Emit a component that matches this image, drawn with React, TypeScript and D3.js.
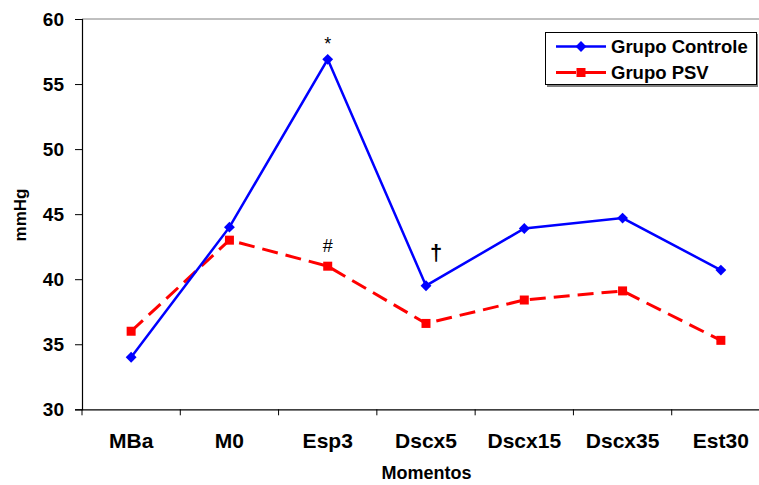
import React, { useRef, useEffect } from 'react';
import * as d3 from 'd3';

const categories = ['MBa', 'M0', 'Esp3', 'Dscx5', 'Dscx15', 'Dscx35', 'Est30'];
const controle = [34.0, 44.0, 56.9, 39.5, 43.9, 44.7, 40.7];
const psv = [36.0, 43.0, 41.0, 36.6, 38.4, 39.1, 35.3];
const yTicks = [30, 35, 40, 45, 50, 55, 60];
const marks = [
  { cat: 'Esp3', value: 56.9, text: '*', dy: -9, dx: 0 },
  { cat: 'Esp3', value: 41.0, text: '#', dy: -14, dx: 0 },
  { cat: 'Dscx5', value: 39.5, text: '†', dy: -26, dx: 10 },
];

const App: React.FC = () => {
  const svgRef = useRef<SVGSVGElement | null>(null);

  useEffect(() => {
    if (!svgRef.current) return;
    const svg = d3.select(svgRef.current);
    svg.selectAll('*').remove();

    const left = 82;
    const top = 19;
    const bottom = 409.3;
    const right = 770;
    const font = 'Arial, "Liberation Sans", sans-serif';

    const x = d3.scaleBand().domain(categories).range([left, right]);
    const y = d3.scaleLinear().domain([30, 60]).range([bottom, top]);
    const cx = (c: string) => x(c)! + x.bandwidth() / 2;

    // top border of plot area
    svg.append('line')
      .attr('x1', left).attr('x2', 759).attr('y1', top).attr('y2', top)
      .attr('stroke', '#808080').attr('stroke-width', 1);

    // Y axis
    const yAxis = svg.append('g')
      .attr('transform', `translate(${left},0)`)
      .call(d3.axisLeft(y).tickValues(yTicks).tickSize(7).tickPadding(11));
    yAxis.select('.domain').attr('stroke', '#000').attr('stroke-width', 1.2);
    yAxis.selectAll('.tick line').attr('stroke', '#000');
    yAxis.selectAll('.tick text')
      .attr('font-family', font).attr('font-size', 19).attr('font-weight', 'bold').attr('fill', '#000');

    // X axis
    const xAxis = svg.append('g')
      .attr('transform', `translate(0,${bottom})`)
      .call(d3.axisBottom(x).tickSize(0).tickSizeOuter(0).tickPadding(24));
    xAxis.select('.domain').attr('stroke', '#000').attr('stroke-width', 1.2);
    xAxis.selectAll('.tick text')
      .attr('font-family', font).attr('font-size', 21).attr('font-weight', 'bold').attr('fill', '#000');
    // ticks at band boundaries
    xAxis.selectAll('.bound')
      .data(categories)
      .enter()
      .append('line')
      .attr('x1', d => x(d)!).attr('x2', d => x(d)!)
      .attr('y1', 0).attr('y2', 6)
      .attr('stroke', '#000');

    // axis titles
    svg.append('text')
      .attr('x', 426.5).attr('y', 479)
      .attr('text-anchor', 'middle')
      .attr('font-family', font).attr('font-size', 18).attr('font-weight', 'bold')
      .text('Momentos');
    svg.append('text')
      .attr('transform', `translate(26,${215}) rotate(-90)`)
      .attr('text-anchor', 'middle')
      .attr('font-family', font).attr('font-size', 17).attr('font-weight', 'bold')
      .text('mmHg');

    const line = d3.line<number>()
      .x((_, i) => cx(categories[i]))
      .y(d => y(d));

    // PSV series
    svg.append('path')
      .datum(psv)
      .attr('d', line)
      .attr('fill', 'none')
      .attr('stroke', '#ff0000')
      .attr('stroke-width', 3)
      .attr('stroke-dasharray', '16,8');
    svg.selectAll('.sq')
      .data(psv)
      .enter()
      .append('rect')
      .attr('x', (_, i) => cx(categories[i]) - 4.5)
      .attr('y', d => y(d) - 4.5)
      .attr('width', 9).attr('height', 9)
      .attr('fill', '#ff0000');

    // Controle series
    svg.append('path')
      .datum(controle)
      .attr('d', line)
      .attr('fill', 'none')
      .attr('stroke', '#0000ff')
      .attr('stroke-width', 2.5);
    const diamond = d3.symbol().type(d3.symbolDiamond2).size(75);
    svg.selectAll('.dm')
      .data(controle)
      .enter()
      .append('path')
      .attr('d', diamond)
      .attr('transform', (d, i) => `translate(${cx(categories[i])},${y(d)})`)
      .attr('fill', '#0000ff');

    // significance marks
    svg.selectAll('.mk')
      .data(marks)
      .enter()
      .append('text')
      .attr('x', d => cx(d.cat) + d.dx)
      .attr('y', d => y(d.value) + d.dy)
      .attr('text-anchor', 'middle')
      .attr('font-family', font)
      .attr('font-size', d => (d.text === '†' ? 22 : 18))
      .attr('font-weight', d => (d.text === '†' ? 'bold' : 'normal'))
      .text(d => d.text);

    // legend
    const lg = svg.append('g');
    lg.append('rect')
      .attr('x', 547).attr('y', 34).attr('width', 211).attr('height', 53)
      .attr('fill', '#808080');
    lg.append('rect')
      .attr('x', 545.5).attr('y', 32.5).attr('width', 211).attr('height', 52)
      .attr('fill', '#fff').attr('stroke', '#000').attr('stroke-width', 1);
    const items = [
      { name: 'Grupo Controle', color: '#0000ff', dash: null as string | null, kind: 'd' },
      { name: 'Grupo PSV', color: '#ff0000', dash: '16,8', kind: 's' },
    ];
    items.forEach((it, i) => {
      const ly = 46.5 + i * 26;
      lg.append('line')
        .attr('x1', 556).attr('x2', 606).attr('y1', ly).attr('y2', ly)
        .attr('stroke', it.color).attr('stroke-width', it.kind === 'd' ? 2.5 : 3)
        .attr('stroke-dasharray', it.dash ? '20,9,30' : null);
      if (it.kind === 'd') {
        lg.append('path').attr('d', diamond).attr('transform', `translate(581,${ly})`).attr('fill', it.color);
      } else {
        lg.append('rect').attr('x', 576.5).attr('y', ly - 4.5).attr('width', 9).attr('height', 9).attr('fill', it.color);
      }
      lg.append('text')
        .attr('x', 611).attr('y', ly + 6.5)
        .attr('font-family', font).attr('font-size', 18.5).attr('font-weight', 'bold')
        .text(it.name);
    });
  }, []);

  return (
    <svg
      ref={svgRef}
      width={759}
      height={485}
      style={{ position: 'absolute', left: 0, top: 0, background: '#fff' }}
    />
  );
};

export default App;
